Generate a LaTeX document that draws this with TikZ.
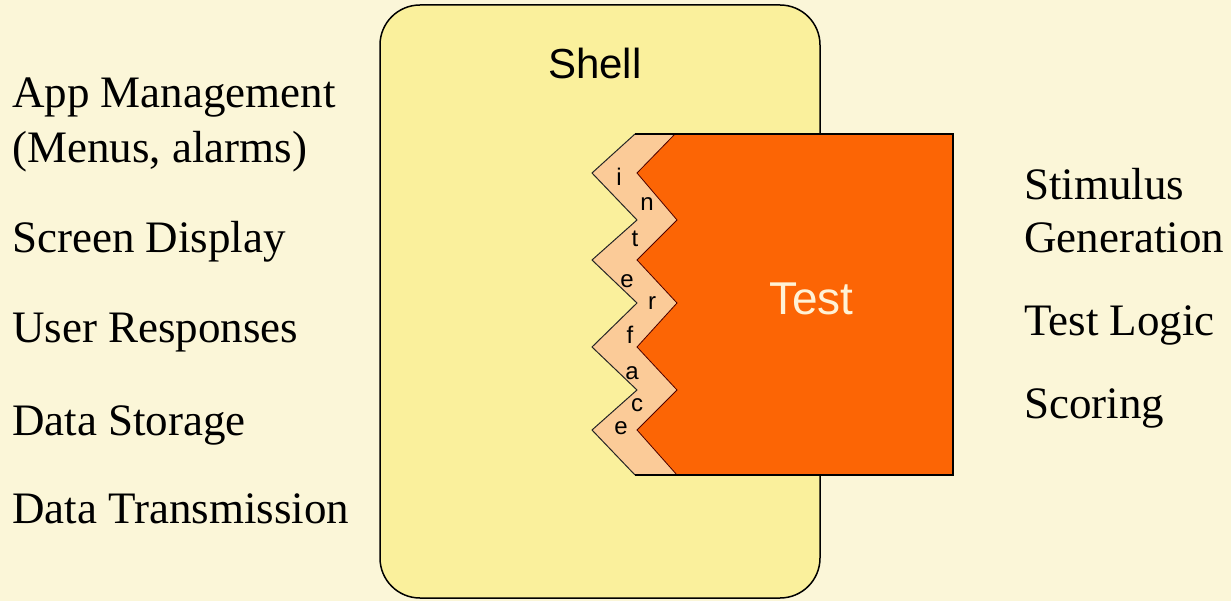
\documentclass[tikz,border=0pt]{standalone}
\usepackage{fontspec}
\setmainfont{Liberation Serif}
\setsansfont{Liberation Sans}
\definecolor{bgc}{HTML}{FBF6D8}
\definecolor{shellc}{HTML}{FAF09C}
\definecolor{testc}{HTML}{FC6505}
\definecolor{stripc}{HTML}{FBCB98}
\definecolor{testtext}{HTML}{FFF2D6}
\begin{document}
\begin{tikzpicture}[x=1pt,y=-1pt,
  label/.style={anchor=base west,inner sep=0pt,font=\fontsize{45}{52}\selectfont},
  sanslabel/.style={anchor=base west,inner sep=0pt,font=\sffamily\fontsize{42}{48}\selectfont},
  letter/.style={anchor=base,inner sep=0pt,font=\sffamily\fontsize{24}{27}\selectfont}]
\fill[bgc] (0,0) rectangle (1231,601);
\useasboundingbox (0,0) rectangle (1231,601);
% shell
\draw[fill=shellc,line width=1.5pt,rounded corners=40pt] (380,5) rectangle (820,598);
\node[sanslabel] (shell) at (548,79) {Shell};
% interface strip
\fill[stripc] (635,134) -- (953,134) -- (953,475) -- (635,475) -- (592,430) -- (637,390) -- (592,347) -- (637,303) -- (592,260) -- (637,220) -- (592,173) -- cycle;
\draw[line width=1pt,black!85] (635,134) -- (592,173) -- (637,220) -- (592,260) -- (637,303) -- (592,347) -- (637,390) -- (592,430) -- (635,475);
\node[letter] (l1) at (619,186) {i};
\node[letter] (l2) at (647,211) {n};
\node[letter] (l3) at (635,247) {t};
\node[letter] (l4) at (627,288) {e};
\node[letter] (l5) at (652,310) {r};
\node[letter] (l6) at (630,344) {f};
\node[letter] (l7) at (632,380) {a};
\node[letter] (l8) at (637,411) {c};
\node[letter] (l9) at (621,434) {e};
% test
\fill[testc] (675,134) -- (953,134) -- (953,475) -- (677,475) -- (637,430) -- (677,390) -- (637,347) -- (677,303) -- (637,260) -- (677,220) -- (637,173) -- cycle;
\draw[line width=0.8pt,black!70!red] (675,134) -- (637,173) -- (677,220) -- (637,260) -- (677,303) -- (637,347) -- (677,390) -- (637,430) -- (677,475);
\draw[line width=2pt] (635,134) -- (953,134) -- (953,475) -- (635,475);
\node[sanslabel,text=testtext,font=\sffamily\fontsize{46}{52}\selectfont] (test) at (769,315) {Test};
% left texts
\node[label] (t1) at (12,108) {App Management};
\node[label] (t2) at (12,163) {(Menus, alarms)};
\node[label] (t3) at (12,253) {Screen Display};
\node[label] (t4) at (12,343) {User Responses};
\node[label] (t5) at (12,435) {Data Storage};
\node[label] (t6) at (12,523) {Data Transmission};
% right texts
\node[label] (r1) at (1024,200) {Stimulus};
\node[label] (r2) at (1024,253) {Generation};
\node[label] (r3) at (1024,336) {Test Logic};
\node[label] (r4) at (1024,418) {Scoring};
\end{tikzpicture}
\end{document}
